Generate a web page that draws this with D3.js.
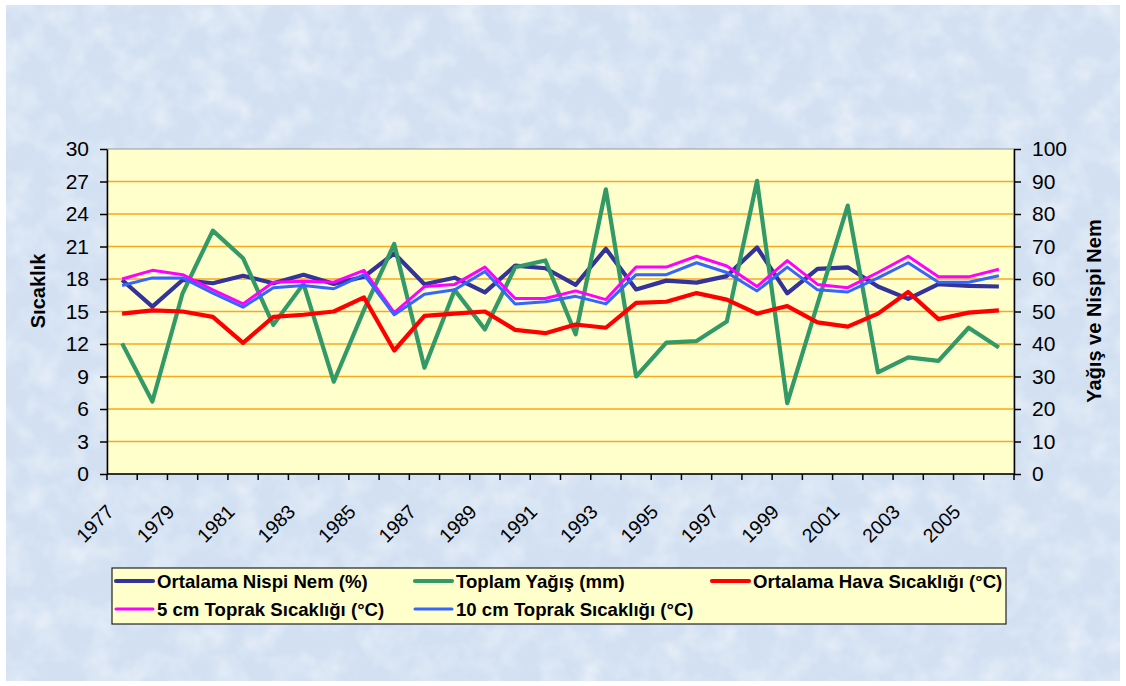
<!DOCTYPE html>
<html>
<head>
<meta charset="utf-8">
<script src="https://cdn.jsdelivr.net/npm/d3@7"></script>
<style>
html,body{margin:0;padding:0;background:#fff;}
svg{display:block;}
</style>
</head>
<body>
<svg id="chart" width="1126" height="686"></svg>
<script>
const years = d3.range(1977, 2007);
const yearLabels = years.filter(y => (y - 1977) % 2 === 0).map(String);
const leftTicks = [0, 3, 6, 9, 12, 15, 18, 21, 24, 27, 30];
const rightTicks = [0, 10, 20, 30, 40, 50, 60, 70, 80, 90, 100];

const nispiNem = [59.7, 51.5, 59.7, 58.7, 61.0, 58.7, 61.3, 58.5, 60.7, 67.9, 58.4, 60.4, 55.9, 64.1, 63.3, 58.2, 69.3, 56.8, 59.5, 58.9, 60.9, 69.7, 55.6, 63.1, 63.6, 57.7, 53.9, 58.4, 57.9, 57.7];
const toplamYagis = [40.2, 22.3, 55.6, 74.9, 66.4, 45.9, 58.5, 28.4, 50.5, 70.8, 32.7, 56.6, 44.5, 63.6, 65.7, 43.0, 87.6, 30.0, 40.4, 40.9, 46.9, 90.2, 21.8, 52.3, 82.6, 31.3, 35.9, 34.8, 45.0, 38.9];
const havaSicakligi = [14.8, 15.1, 15.0, 14.5, 12.1, 14.5, 14.7, 15.0, 16.3, 11.4, 14.6, 14.8, 15.0, 13.3, 13.0, 13.8, 13.5, 15.8, 15.9, 16.7, 16.1, 14.8, 15.5, 14.0, 13.6, 14.8, 16.8, 14.3, 14.9, 15.1];
const toprak5 = [18.0, 18.8, 18.4, 17.0, 15.7, 17.7, 17.8, 17.7, 18.8, 14.9, 17.3, 17.5, 19.1, 16.2, 16.2, 16.9, 16.1, 19.1, 19.1, 20.1, 19.2, 17.3, 19.7, 17.5, 17.2, 18.6, 20.1, 18.2, 18.2, 18.9];
const toprak10 = [17.4, 18.1, 18.1, 16.7, 15.4, 17.2, 17.4, 17.1, 18.4, 14.7, 16.6, 17.0, 18.7, 15.7, 15.9, 16.4, 15.7, 18.4, 18.4, 19.5, 18.6, 16.9, 19.1, 17.0, 16.8, 18.1, 19.5, 17.7, 17.7, 18.3];

const seriesNames = ["Ortalama Nispi Nem (%)", "Toplam Yağış (mm)", "Ortalama Hava Sıcaklığı (°C)", "5 cm Toprak Sıcaklığı (°C)", "10 cm Toprak Sıcaklığı (°C)"];

const series = [
  {name: seriesNames[0], values: nispiNem, axis: "R", color: "#333399", width: 4.2},
  {name: seriesNames[1], values: toplamYagis, axis: "R", color: "#339966", width: 4.2},
  {name: seriesNames[2], values: havaSicakligi, axis: "L", color: "#FF0000", width: 4.2},
  {name: seriesNames[3], values: toprak5, axis: "L", color: "#FF00FF", width: 3},
  {name: seriesNames[4], values: toprak10, axis: "L", color: "#3366FF", width: 3}
];

const svg = d3.select("#chart");
const W = 1126, H = 686;
const plot = {x0: 107, x1: 1014, y0: 149, y1: 474};
const FONT = "'Liberation Sans', Arial, sans-serif";

// background
const defs = svg.append("defs");
const f = defs.append("filter").attr("id", "tex").attr("x", 0).attr("y", 0).attr("width", "100%").attr("height", "100%");
f.append("feTurbulence").attr("type", "fractalNoise").attr("baseFrequency", "0.035").attr("numOctaves", 3).attr("seed", 7);
f.append("feColorMatrix").attr("type", "matrix")
  .attr("values", "0 0 0 0 1  0 0 0 0 1  0 0 0 0 1  0.9 0 0 0 -0.35");
f.append("feComposite").attr("in2", "SourceGraphic").attr("operator", "in");

svg.append("rect").attr("width", W).attr("height", H).attr("fill", "#fff");
svg.append("rect").attr("x", 6).attr("y", 5).attr("width", 1114).attr("height", 676).attr("fill", "#D2E0F2");
svg.append("rect").attr("x", 6).attr("y", 5).attr("width", 1114).attr("height", 676).attr("fill", "#fff").attr("filter", "url(#tex)");

const x = d3.scaleBand().domain(years).range([plot.x0, plot.x1]);
const cx = d => x(d) + x.bandwidth() / 2;
const yL = d3.scaleLinear().domain([0, 30]).range([plot.y1, plot.y0]);
const yR = d3.scaleLinear().domain([0, 100]).range([plot.y1, plot.y0]);

// plot area
svg.append("rect").attr("x", plot.x0).attr("y", plot.y0)
  .attr("width", plot.x1 - plot.x0).attr("height", plot.y1 - plot.y0)
  .attr("fill", "#FFFFCC").attr("stroke", "#9a9a9a").attr("stroke-width", 1);

// gridlines
svg.append("g").selectAll("line").data(leftTicks.filter(t => t > 0 && t < 30)).join("line")
  .attr("x1", plot.x0).attr("x2", plot.x1)
  .attr("y1", d => yL(d)).attr("y2", d => yL(d))
  .attr("stroke", "#F8A81C").attr("stroke-width", 1.5);

// left axis
const gL = svg.append("g").attr("transform", `translate(${plot.x0},0)`)
  .call(d3.axisLeft(yL).tickValues(leftTicks).tickSize(7).tickPadding(11).tickSizeOuter(0));
gL.selectAll("text").attr("font-family", FONT).attr("font-size", 21).attr("fill", "#000");
gL.selectAll("line, path").attr("stroke", "#000").attr("stroke-width", 1.5);

// right axis
const gR = svg.append("g").attr("transform", `translate(${plot.x1},0)`)
  .call(d3.axisRight(yR).tickValues(rightTicks).tickSize(7).tickPadding(11).tickSizeOuter(0));
gR.selectAll("text").attr("font-family", FONT).attr("font-size", 21).attr("fill", "#000");
gR.selectAll("line, path").attr("stroke", "#000").attr("stroke-width", 1.5);

// bottom axis
const bounds = years.map(y => x(y)).concat([plot.x1]);
const gB = svg.append("g");
gB.append("line").attr("x1", plot.x0).attr("x2", plot.x1).attr("y1", plot.y1).attr("y2", plot.y1)
  .attr("stroke", "#000").attr("stroke-width", 1.5);
gB.selectAll("line.tk").data(bounds).join("line").attr("class", "tk")
  .attr("x1", d => d).attr("x2", d => d).attr("y1", plot.y1).attr("y2", plot.y1 + 6)
  .attr("stroke", "#000").attr("stroke-width", 1.5);
gB.selectAll("text").data(yearLabels).join("text")
  .attr("transform", d => `translate(${cx(+d) - 7},${plot.y1 + 39}) rotate(-45)`)
  .attr("text-anchor", "end")
  .attr("font-family", FONT).attr("font-size", 19.5).attr("fill", "#000")
  .text(d => d);

// axis titles
svg.append("text").attr("transform", `translate(45,291) rotate(-90)`)
  .attr("text-anchor", "middle").attr("font-family", FONT).attr("font-weight", "bold")
  .attr("font-size", 20).text("Sıcaklık");
svg.append("text").attr("transform", `translate(1101,311) rotate(-90)`)
  .attr("text-anchor", "middle").attr("font-family", FONT).attr("font-weight", "bold")
  .attr("font-size", 20).text("Yağış ve Nispi Nem");

// lines
const gLines = svg.append("g");
series.forEach(s => {
  const ys = s.axis === "L" ? yL : yR;
  const line = d3.line().x((d, i) => cx(years[i])).y(d => ys(d));
  gLines.append("path").datum(s.values).attr("d", line)
    .attr("fill", "none").attr("stroke", s.color).attr("stroke-width", s.width)
    .attr("stroke-linejoin", "round").attr("stroke-linecap", "butt");
});

// legend
const lg = svg.append("g");
lg.append("rect").attr("x", 112).attr("y", 568).attr("width", 894).attr("height", 56)
  .attr("fill", "#FFFFCC").attr("stroke", "#222").attr("stroke-width", 1.2);
const legPos = [[116, 581], [415, 581], [712, 581], [116, 609], [415, 609]];
series.forEach((s, i) => {
  const [lx, ly] = legPos[i];
  lg.append("line").attr("x1", lx).attr("x2", lx + 37).attr("y1", ly).attr("y2", ly)
    .attr("stroke", s.color).attr("stroke-width", s.width).attr("stroke-linecap", "round");
  lg.append("text").attr("x", lx + 41).attr("y", ly).attr("dy", "0.36em")
    .attr("font-family", FONT).attr("font-weight", "bold").attr("font-size", 18.6)
    .text(s.name);
});
</script>
</body>
</html>
